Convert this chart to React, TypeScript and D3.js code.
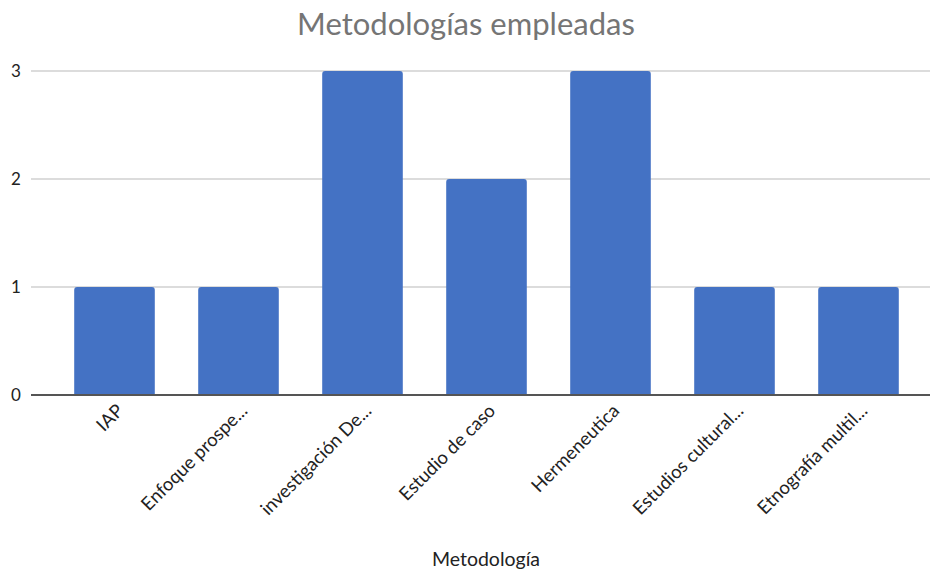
import * as d3 from "d3";

const categories = [
  "IAP",
  "Enfoque prospe...",
  "investigación De...",
  "Estudio de caso",
  "Hermeneutica",
  "Estudios cultural...",
  "Etnografía multil...",
];
const counts = [1, 1, 3, 2, 3, 1, 1];
const yTicks = [0, 1, 2, 3];

export default function App() {
  const width = 932;
  const height = 570;
  const plotTop = 71;
  const plotBottom = 395;
  const gridLeft = 31;
  const gridRight = 930;
  const font = "Lato, 'Open Sans', sans-serif";

  const x = d3
    .scaleBand()
    .domain(categories)
    .range([52.5, 920.5])
    .paddingInner(0.35)
    .paddingOuter(0.175);
  const y = d3.scaleLinear().domain([0, 3]).range([plotBottom, plotTop]);
  const r = 3;

  return (
    <svg
      width={width}
      height={height}
      style={{ position: "absolute", left: 0, top: 0, background: "#fff" }}
      fontFamily={font}
    >
      <text x={466} y={35} textAnchor="middle" fontSize={31} fill="#757575">
        Metodologías empleadas
      </text>
      {yTicks.map((tick) => (
        <g key={tick}>
          {tick > 0 && (
            <line
              x1={gridLeft}
              x2={gridRight}
              y1={y(tick)}
              y2={y(tick)}
              stroke="#d0d0d0"
              strokeWidth={1.5}
            />
          )}
          <text x={16} y={y(tick) + 6} textAnchor="middle" fontSize={17} fill="#222">
            {tick}
          </text>
        </g>
      ))}
      {categories.map((name, i) => {
        const bx = x(name) ?? 0;
        const bw = x.bandwidth();
        const top = y(counts[i]);
        const path = `M${bx},${plotBottom} V${top + r} Q${bx},${top} ${bx + r},${top} H${bx + bw - r} Q${bx + bw},${top} ${bx + bw},${top + r} V${plotBottom} Z`;
        const cx = bx + bw / 2;
        return (
          <g key={name}>
            <path d={path} fill="#4472C4" />
            <text
              transform={`translate(${cx + 10}, ${plotBottom + 17}) rotate(-45)`}
              textAnchor="end"
              fontSize={18.5}
              fill="#222"
            >
              {name}
            </text>
          </g>
        );
      })}
      <line
        x1={gridLeft}
        x2={gridRight}
        y1={plotBottom}
        y2={plotBottom}
        stroke="#555"
        strokeWidth={2}
      />
      <text x={486} y={566} textAnchor="middle" fontSize={19.5} fill="#222">
        Metodología
      </text>
    </svg>
  );
}
